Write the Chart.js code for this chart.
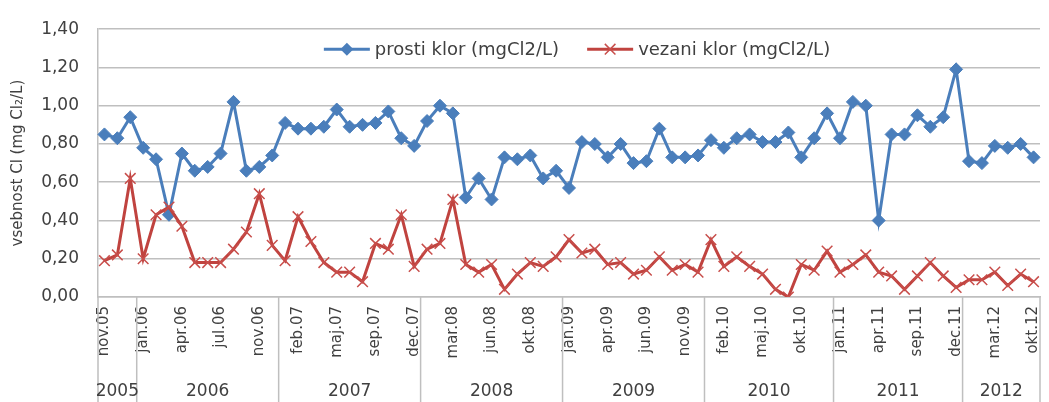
<!DOCTYPE html>
<html>
<head>
<meta charset="utf-8">
<script src="https://cdn.jsdelivr.net/npm/chart.js@4.4.0/dist/chart.umd.min.js"></script>
<style>
  html, body { margin: 0; padding: 0; background: #fff; }
  #wrap { width: 1049px; height: 402px; position: relative; }
</style>
</head>
<body>
<div id="wrap"><canvas id="kloriGraph"></canvas></div>
<script>
'use strict'

// meseci (vsaka tretja oznaka je prikazana)
const monthLabels = [
  'nov.05', 'dec.05', 'dec.05',
  'jan.06', 'feb.06', 'mar.06', 'apr.06', 'maj.06', 'jun.06', 'jul.06', 'avg.06', 'sep.06', 'nov.06', 'dec.06',
  'jan.07', 'feb.07', 'mar.07', 'apr.07', 'maj.07', 'jun.07', 'jul.07', 'sep.07', 'okt.07', 'nov.07', 'dec.07',
  'jan.08', 'feb.08', 'mar.08', 'apr.08', 'maj.08', 'jun.08', 'jul.08', 'sep.08', 'okt.08', 'nov.08', 'dec.08',
  'jan.09', 'feb.09', 'mar.09', 'apr.09', 'maj.09', 'maj.09', 'jun.09', 'jul.09', 'sep.09', 'nov.09', 'dec.09',
  'jan.10', 'feb.10', 'mar.10', 'apr.10', 'maj.10', 'jun.10', 'jul.10', 'okt.10', 'nov.10', 'dec.10',
  'jan.11', 'feb.11', 'mar.11', 'apr.11', 'maj.11', 'jun.11', 'sep.11', 'okt.11', 'nov.11', 'dec.11',
  'jan.12', 'feb.12', 'mar.12', 'apr.12', 'jun.12', 'okt.12'
];

const prostiKlor = [
  0.85, 0.83, 0.94,
  0.78, 0.72, 0.43, 0.75, 0.66, 0.68, 0.75, 1.02, 0.66, 0.68, 0.74,
  0.91, 0.88, 0.88, 0.89, 0.98, 0.89, 0.90, 0.91, 0.97, 0.83, 0.79,
  0.92, 1.00, 0.96, 0.52, 0.62, 0.51, 0.73, 0.72, 0.74, 0.62, 0.66,
  0.57, 0.81, 0.80, 0.73, 0.80, 0.70, 0.71, 0.88, 0.73, 0.73, 0.74,
  0.82, 0.78, 0.83, 0.85, 0.81, 0.81, 0.86, 0.73, 0.83, 0.96,
  0.83, 1.02, 1.00, 0.40, 0.85, 0.85, 0.95, 0.89, 0.94, 1.19,
  0.71, 0.70, 0.79, 0.78, 0.80, 0.73
];

const vezaniKlor = [
  0.19, 0.22, 0.62,
  0.20, 0.43, 0.47, 0.37, 0.18, 0.18, 0.18, 0.25, 0.34, 0.54, 0.27,
  0.19, 0.42, 0.29, 0.18, 0.13, 0.13, 0.08, 0.28, 0.25, 0.43, 0.16,
  0.25, 0.28, 0.51, 0.17, 0.13, 0.17, 0.04, 0.12, 0.18, 0.16, 0.21,
  0.30, 0.23, 0.25, 0.17, 0.18, 0.12, 0.14, 0.21, 0.14, 0.17, 0.13,
  0.30, 0.16, 0.21, 0.16, 0.12, 0.04, 0.00, 0.17, 0.14, 0.24,
  0.13, 0.17, 0.22, 0.13, 0.11, 0.04, 0.11, 0.18, 0.11, 0.05,
  0.09, 0.09, 0.13, 0.06, 0.12, 0.08
];

const yTicks = [0, 0.2, 0.4, 0.6, 0.8, 1.0, 1.2, 1.4];

const FONT = '"DejaVu Sans", sans-serif';
const TEXT = '#404040';
const GRID = '#bfbfbf';

Chart.defaults.font.family = FONT;
Chart.defaults.color = TEXT;

// leto pod mesecem (2005, 2006, ...) + navpične črte
const yearRows = {
  id: 'yearRows',
  afterDraw(chart) {
    const xs = chart.scales.x;
    const ctx = chart.ctx;
    const bottom = chart.chartArea.bottom;
    const step = xs.getPixelForValue(1) - xs.getPixelForValue(0);
    const edge = i => xs.getPixelForValue(i) - step / 2;

    const groups = [];
    monthLabels.forEach((m, i) => {
      const yr = '20' + m.slice(-2);
      const last = groups[groups.length - 1];
      if (last && last.yr === yr) last.end = i + 1;
      else groups.push({ yr: yr, start: i, end: i + 1 });
    });

    ctx.save();
    ctx.strokeStyle = GRID;
    ctx.lineWidth = 1.5;
    ctx.fillStyle = TEXT;
    ctx.font = '17px ' + FONT;
    ctx.textAlign = 'center';
    ctx.textBaseline = 'middle';
    groups.forEach((g, k) => {
      const x0 = edge(g.start), x1 = edge(g.end);
      ctx.beginPath();
      if (k === 0) { ctx.moveTo(x0, bottom); ctx.lineTo(x0, chart.height); }
      ctx.moveTo(x1, bottom);
      ctx.lineTo(x1, chart.height);
      ctx.stroke();
      ctx.fillText(g.yr, (x0 + x1) / 2, bottom + 95);
    });
    ctx.restore();
  }
};

// legenda znotraj grafa
const insideLegend = {
  id: 'insideLegend',
  afterDraw(chart) {
    const ctx = chart.ctx;
    const area = chart.chartArea;
    const lineLen = 46, gap = 5, itemGap = 28;
    ctx.save();
    ctx.font = '18px ' + FONT;
    const items = chart.data.datasets.map(ds => ({ ds: ds, w: lineLen + gap + ctx.measureText(ds.label).width }));
    const total = items.reduce((s, it) => s + it.w, 0) + itemGap * (items.length - 1);
    let x = (area.left + area.right) / 2 - total / 2 + 8;
    const y = area.top + 20;
    items.forEach(it => {
      const ds = it.ds;
      const cx = x + lineLen / 2;
      const r = ds.pointRadius;
      ctx.strokeStyle = ds.borderColor;
      ctx.lineWidth = ds.borderWidth;
      ctx.beginPath();
      ctx.moveTo(x, y);
      ctx.lineTo(x + lineLen, y);
      ctx.stroke();
      ctx.beginPath();
      if (ds.pointStyle === 'rectRot') {
        ctx.moveTo(cx, y - r); ctx.lineTo(cx + r, y); ctx.lineTo(cx, y + r); ctx.lineTo(cx - r, y);
        ctx.closePath();
        ctx.fillStyle = ds.pointBackgroundColor;
        ctx.fill();
      } else {
        const d = r * Math.SQRT1_2;
        ctx.strokeStyle = ds.pointBorderColor;
        ctx.lineWidth = ds.pointBorderWidth;
        ctx.moveTo(cx - d, y - d); ctx.lineTo(cx + d, y + d);
        ctx.moveTo(cx + d, y - d); ctx.lineTo(cx - d, y + d);
        ctx.stroke();
      }
      ctx.fillStyle = TEXT;
      ctx.textAlign = 'left';
      ctx.textBaseline = 'middle';
      ctx.fillText(ds.label, x + lineLen + gap, y + 1);
      x += it.w + itemGap;
    });
    ctx.restore();
  }
};

const ctx = document.getElementById('kloriGraph');
const myChart = new Chart(ctx, {
  type: 'line',
  data: {
    labels: monthLabels,
    datasets: [{
      label: 'prosti klor (mgCl2/L)',
      data: prostiKlor,
      borderColor: '#4a7ebb',
      backgroundColor: '#4a7ebb',
      borderWidth: 3,
      pointStyle: 'rectRot',
      pointRadius: 6.5,
      pointBackgroundColor: '#4a7ebb',
      pointBorderColor: '#4a7ebb',
      pointBorderWidth: 1,
      tension: 0,
      order: 1
    }, {
      label: 'vezani klor (mgCl2/L)',
      data: vezaniKlor,
      borderColor: '#c0433f',
      backgroundColor: '#c0433f',
      borderWidth: 3,
      pointStyle: 'crossRot',
      pointRadius: 7.5,
      pointBorderColor: '#c84e4b',
      pointBorderWidth: 1.5,
      tension: 0,
      order: 0
    }]
  },
  options: {
    responsive: true,
    maintainAspectRatio: false,
    animation: false,
    layout: {
      padding: { left: 0, top: 20, right: 6, bottom: 0 }
    },
    scales: {
      x: {
        offset: true,
        grid: { display: false, drawTicks: false },
        border: { display: true, color: GRID, width: 1.5 },
        ticks: {
          autoSkip: false,
          minRotation: 90,
          maxRotation: 90,
          padding: 9,
          color: TEXT,
          font: { size: 15 },
          callback: function(value, index) {
            return index % 3 === 0 ? monthLabels[index] : '';
          }
        },
        afterFit: function(scale) {
          scale.height = 105;
          scale.paddingLeft = 0;
          scale.paddingRight = 0;
        }
      },
      y: {
        min: 0,
        max: 1.4,
        afterBuildTicks: function(scale) {
          scale.ticks = yTicks.map(v => ({ value: v }));
        },
        grid: { color: GRID, lineWidth: 1.5, drawTicks: false },
        border: { display: true, color: GRID, width: 1.5 },
        ticks: {
          padding: 19,
          color: TEXT,
          font: { size: 17 },
          callback: function(value) {
            return value.toFixed(2).replace('.', ',');
          }
        },
        title: {
          display: true,
          text: 'vsebnost Cl (mg Cl\u2082/L)',
          color: TEXT,
          font: { size: 15 },
          padding: { top: 9, bottom: 0 }
        },
        afterFit: function(scale) { scale.width = 98; }
      }
    },
    plugins: {
      legend: { display: false },
      tooltip: { enabled: false }
    }
  },
  plugins: [yearRows, insideLegend]
});
</script>
</body>
</html>
